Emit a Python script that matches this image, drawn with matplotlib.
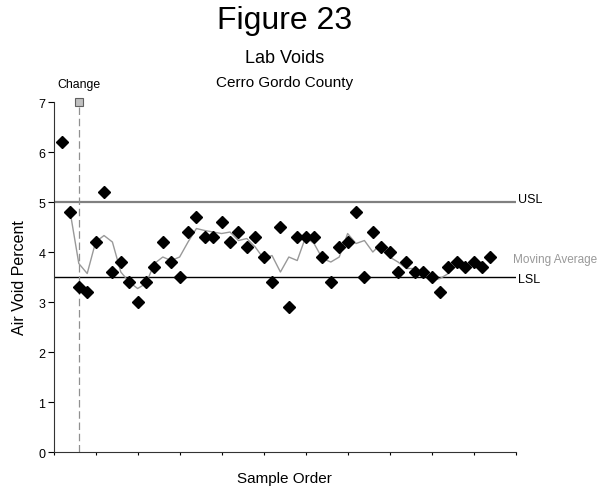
import numpy as np
from matplotlib import pyplot as plt

plt.rcParams['font.family'] = ['Liberation Sans', 'DejaVu Sans']

# lab air voids, one value per sample
sample_order = list(range(1, 53))
air_voids = [6.2, 4.8, 3.3, 3.2, 4.2, 5.2, 3.6, 3.8, 3.4, 3.0,
             3.4, 3.7, 4.2, 3.8, 3.5, 4.4, 4.7, 4.3, 4.3, 4.6,
             4.2, 4.4, 4.1, 4.3, 3.9, 3.4, 4.5, 2.9, 4.3, 4.3,
             4.3, 3.9, 3.4, 4.1, 4.2, 4.8, 3.5, 4.4, 4.1, 4.0,
             3.6, 3.8, 3.6, 3.6, 3.5, 3.2, 3.7, 3.8, 3.7, 3.8,
             3.7, 3.9]

# moving average line (samples 2 .. 51)
ma_order = list(range(2, 52))
moving_avg = [4.77, 3.77, 3.57, 4.20, 4.33, 4.20, 3.60, 3.40, 3.27, 3.37,
              3.77, 3.90, 3.83, 3.90, 4.20, 4.47, 4.43, 4.40, 4.37, 4.40,
              4.23, 4.27, 4.10, 3.87, 3.93, 3.60, 3.90, 3.83, 4.30, 4.17,
              3.87, 3.80, 3.90, 4.37, 4.17, 4.23, 4.00, 4.17, 3.90, 3.80,
              3.67, 3.67, 3.57, 3.43, 3.47, 3.57, 3.73, 3.77, 3.73, 3.80]

usl = 5.0
lsl = 3.5
change_at = 3
y_ticks = [0, 1, 2, 3, 4, 5, 6, 7]

fig = plt.figure(figsize=(5.97, 4.89), dpi=100)
ax = fig.add_axes([0.0898, 0.0736, 0.7739, 0.7157])

ax.set_xlim(0, 55)
ax.set_ylim(0, 7)

# spec limits
ax.axhline(usl, color='#808080', lw=1.6, zorder=1)
ax.axhline(lsl, color='black', lw=1.0, zorder=1)

# change marker
ax.plot([change_at, change_at], [0, 7], color='#909090', lw=0.9,
        dashes=(6, 3), zorder=1)
ax.plot([change_at], [7], 's', ms=5.5, mfc='#c0c0c0', mec='#606060',
        mew=0.8, clip_on=False, zorder=5)
ax.text(change_at, 7.36, 'Change', ha='center', va='center', fontsize=8.8)

ax.plot(ma_order, moving_avg, color='#999999', lw=1.0, zorder=2)
ax.plot(sample_order, air_voids, 'D', color='black', ms=6.2, zorder=3)

# labels on the right
ax.text(55.3, usl, 'USL', ha='left', va='baseline', fontsize=9, clip_on=False)
ax.text(55.3, lsl - 0.04, 'LSL', ha='left', va='center', fontsize=9, clip_on=False)
ax.text(54.7, 3.86, 'Moving Average', ha='left', va='center', fontsize=8.5,
        color='#999999', clip_on=False)

ax.spines['top'].set_visible(False)
ax.spines['right'].set_visible(False)
ax.spines['left'].set_color('#333333')
ax.spines['bottom'].set_color('#333333')

ax.set_yticks(y_ticks)
ax.set_xticks(np.arange(0, 56, 5))
ax.set_xticklabels([])
ax.tick_params(axis='y', length=4, width=0.8, labelsize=9, pad=2)
ax.tick_params(axis='x', length=2, width=0.8)

ax.set_xlabel('Sample Order', fontsize=11, labelpad=8)
ax.set_ylabel('Air Void Percent', fontsize=11.5, labelpad=8)

# titles, centred over the plot area
cx = 0.0898 + 0.7739 / 2
fig.text(cx, 1 - 29.0 / 489, 'Figure 23', ha='center', va='baseline', fontsize=23)
fig.text(cx, 1 - 63.0 / 489, 'Lab Voids', ha='center', va='baseline', fontsize=13)
fig.text(cx, 1 - 87.0 / 489, 'Cerro Gordo County', ha='center', va='baseline', fontsize=11)

fig.savefig('out.png', dpi=100)
